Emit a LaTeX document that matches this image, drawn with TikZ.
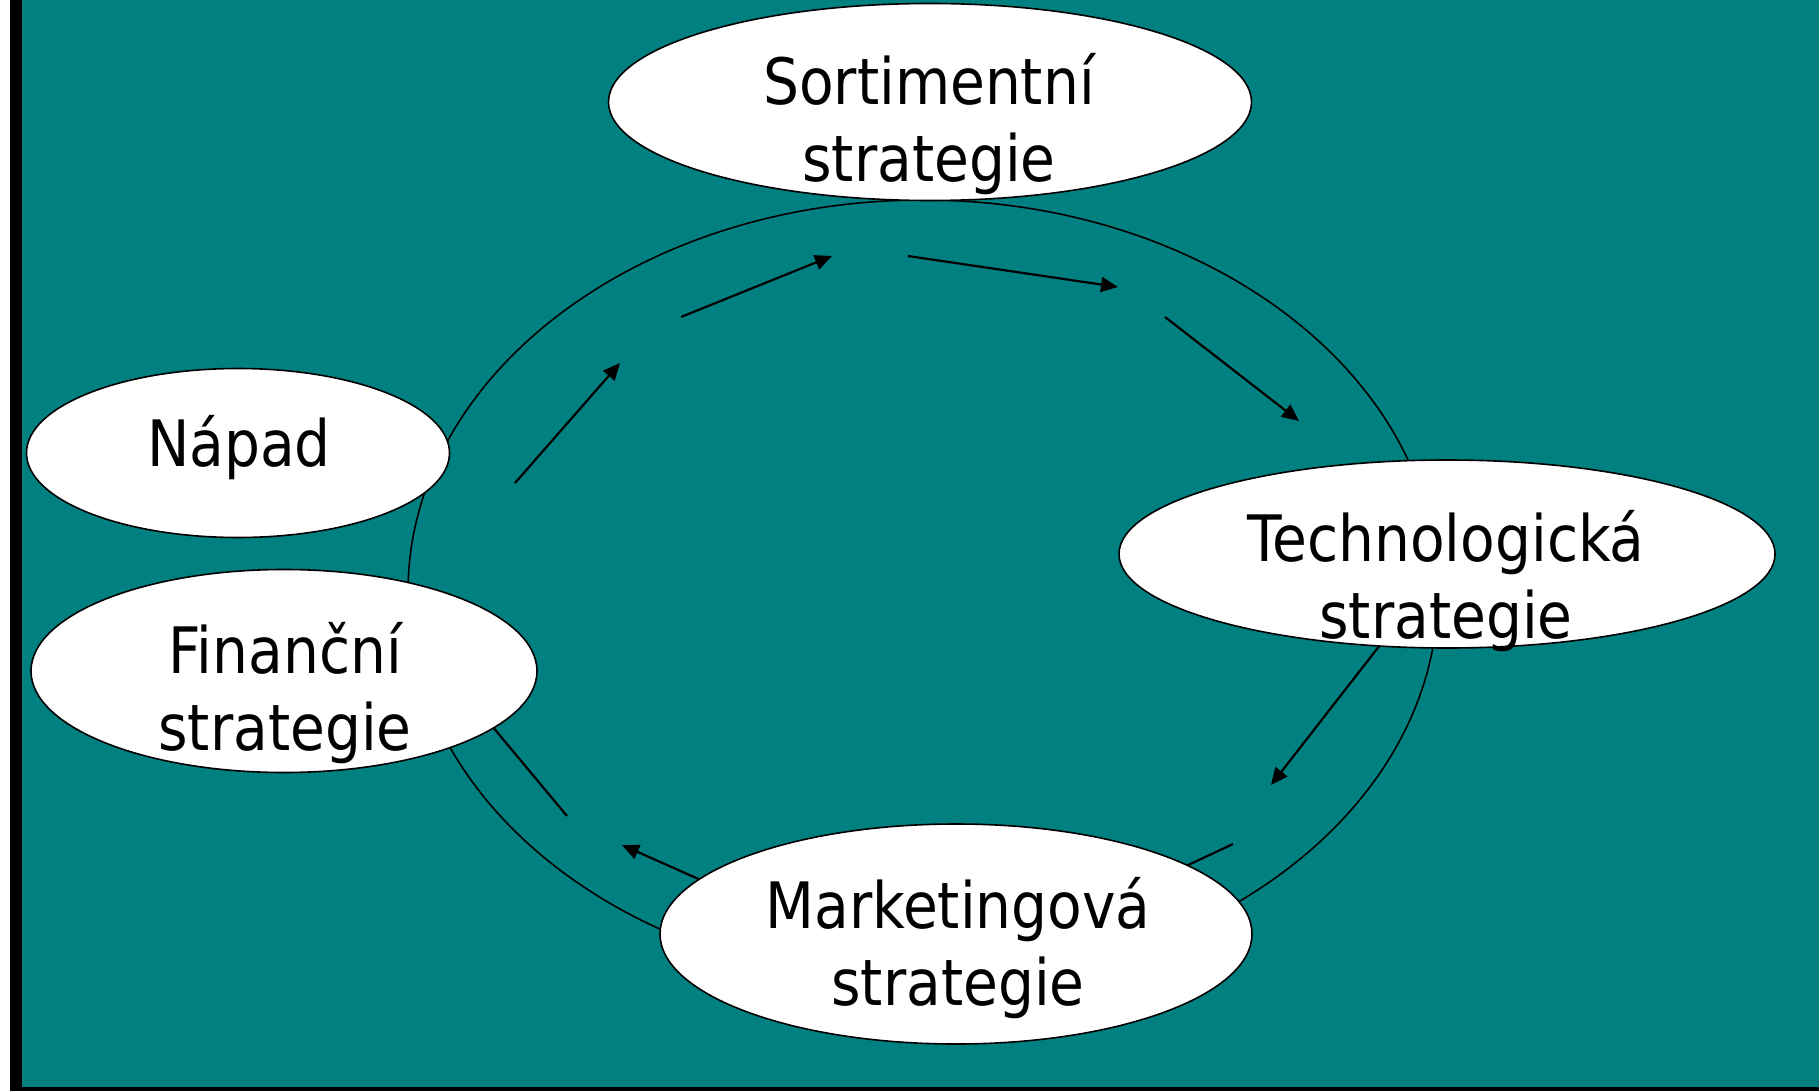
\documentclass[tikz,border=0pt]{standalone}
\usepackage{fontspec}
\newfontfamily\stratfont[FakeStretch=0.885]{DejaVu Sans}
\usetikzlibrary{shapes.geometric,arrows.meta}
\definecolor{slideteal}{RGB}{0,128,128}

\begin{document}
\begin{tikzpicture}[x=1pt,y=-1pt,
  oval/.style={ellipse, draw=black, fill=white, line width=1.6pt, inner sep=0pt},
  lbl/.style={font=\stratfont\fontsize{64}{77}\selectfont, align=center, anchor=base, inner sep=0pt},
  flow/.style={line width=2.2pt, -{Triangle[length=17pt,width=15pt]}},
  ]
\useasboundingbox (0,0) rectangle (1819,1091);

% Slide background
\fill[white] (0,0) rectangle (1819,1091);
\fill[black] (10,0) rectangle (1819,1091);
\fill[slideteal] (22,0) rectangle (1819,1087);

% Big ring behind the strategies
\node[ellipse, draw=black, line width=1.6pt, inner sep=0pt,
  minimum width=1030pt, minimum height=784pt] (ring) at (923,592) {};

% Arrow ends
\coordinate (up1-from) at (515,483);
\coordinate (up1-to) at (620,363);
\coordinate (up2-from) at (681,317);
\coordinate (up2-to) at (832,256);
\coordinate (top-from) at (908,256);
\coordinate (top-to) at (1118,287);
\coordinate (dn1-from) at (1165,317);
\coordinate (dn1-to) at (1299,421);
\coordinate (dn2-from) at (1380,645);
\coordinate (dn2-to) at (1271,785);
\coordinate (dn3-from) at (1233,844);
\coordinate (dn3-to) at (1154,881);
\coordinate (bot-from) at (712,885);
\coordinate (bot-to) at (622,845);
\coordinate (lft-from) at (567,816);
\coordinate (lft-to) at (482,714);

\draw[flow] (up1-from) -- (up1-to);
\draw[flow] (up2-from) -- (up2-to);
\draw[flow] (top-from) -- (top-to);
\draw[flow] (dn1-from) -- (dn1-to);
\draw[flow] (dn2-from) -- (dn2-to);
\draw[flow] (dn3-from) -- (dn3-to);
\draw[flow] (bot-from) -- (bot-to);
\draw[flow] (lft-from) -- (lft-to);

% Strategy ellipses
\node[oval, minimum width=643pt, minimum height=197pt] (sort) at (930,102) {};
\node[oval, minimum width=423pt, minimum height=169pt] (napad) at (238,453) {};
\node[oval, minimum width=506pt, minimum height=203pt] (fin) at (284,671) {};
\node[oval, minimum width=656pt, minimum height=188pt] (tech) at (1447,554) {};
\node[oval, minimum width=592pt, minimum height=220pt] (mark) at (956,934) {};

% Texts (base = last line)
\node[lbl] (sort-t) at (929,182) {Sortimentní\\strategie};
\node[lbl] (napad-t) at (239,466) {Nápad};
\node[lbl] (fin-t) at (285,750) {Finanční\\strategie};
\node[lbl] (tech-t) at (1446,638) {Technologická\\strategie};
\node[lbl] (mark-t) at (958,1005) {Marketingová\\strategie};
\end{tikzpicture}
\end{document}
